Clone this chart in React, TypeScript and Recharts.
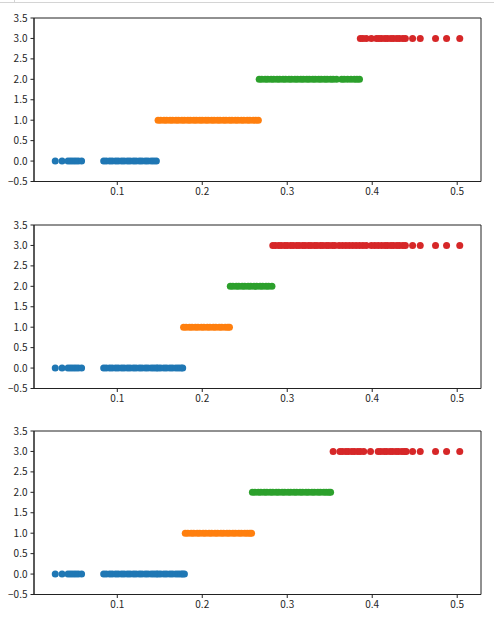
import React from "react";
import {
  ScatterChart,
  Scatter,
  XAxis,
  YAxis,
  ReferenceArea,
} from "recharts";

// ---- data ----
const xTicks = [0.1, 0.2, 0.3, 0.4, 0.5];
const yTicks = [-0.5, 0, 0.5, 1, 1.5, 2, 2.5, 3, 3.5];
const xDomain = [0.002, 0.528];
const yDomain = [-0.5, 3.5];
const colors = ["#1f77b4", "#ff7f0e", "#2ca02c", "#d62728"];

// panel 1
const blue1 = [0.027, 0.035, 0.042, 0.045, 0.048, 0.051, 0.054, 0.058, 0.084, 0.087, 0.091, 0.094, 0.098, 0.101, 0.105, 0.108, 0.112, 0.115, 0.119, 0.122, 0.126, 0.129, 0.133, 0.136, 0.14, 0.143, 0.146];
const orange1 = [0.148, 0.151, 0.155, 0.158, 0.162, 0.165, 0.169, 0.172, 0.176, 0.179, 0.183, 0.186, 0.19, 0.193, 0.197, 0.2, 0.204, 0.207, 0.211, 0.214, 0.218, 0.221, 0.225, 0.228, 0.232, 0.235, 0.239, 0.242, 0.246, 0.249, 0.253, 0.256, 0.26, 0.263, 0.266];
const green1 = [0.267, 0.27, 0.274, 0.277, 0.281, 0.284, 0.288, 0.291, 0.295, 0.298, 0.302, 0.305, 0.309, 0.312, 0.316, 0.319, 0.323, 0.326, 0.33, 0.333, 0.337, 0.34, 0.344, 0.347, 0.351, 0.354, 0.358, 0.364, 0.367, 0.371, 0.375, 0.379, 0.382, 0.385];
const red1 = [0.386, 0.389, 0.393, 0.399, 0.405, 0.408, 0.411, 0.415, 0.418, 0.422, 0.425, 0.429, 0.432, 0.436, 0.439, 0.4475, 0.4565, 0.4745, 0.4875, 0.503];

// panel 2
const blue2 = [0.027, 0.035, 0.042, 0.045, 0.048, 0.051, 0.054, 0.058, 0.084, 0.087, 0.091, 0.094, 0.098, 0.101, 0.105, 0.108, 0.112, 0.115, 0.119, 0.122, 0.126, 0.129, 0.133, 0.136, 0.14, 0.143, 0.146, 0.148, 0.151, 0.155, 0.158, 0.162, 0.165, 0.169, 0.172, 0.175, 0.177];
const orange2 = [0.178, 0.181, 0.185, 0.188, 0.192, 0.195, 0.199, 0.202, 0.206, 0.209, 0.213, 0.216, 0.22, 0.223, 0.227, 0.23, 0.232];
const green2 = [0.233, 0.236, 0.24, 0.243, 0.247, 0.25, 0.254, 0.257, 0.261, 0.264, 0.268, 0.271, 0.275, 0.278, 0.282];
const red2 = [0.283, 0.286, 0.29, 0.293, 0.297, 0.3, 0.304, 0.307, 0.311, 0.314, 0.318, 0.321, 0.325, 0.328, 0.332, 0.335, 0.339, 0.342, 0.346, 0.349, 0.353, 0.356, 0.361, 0.365, 0.369, 0.373, 0.377, 0.381, 0.385, 0.389, 0.393, 0.399, 0.403, 0.407, 0.411, 0.415, 0.418, 0.422, 0.425, 0.429, 0.432, 0.436, 0.439, 0.4475, 0.4565, 0.4745, 0.4875, 0.503];

// panel 3
const blue3 = [0.027, 0.035, 0.042, 0.045, 0.048, 0.051, 0.054, 0.058, 0.084, 0.087, 0.091, 0.094, 0.098, 0.101, 0.105, 0.108, 0.112, 0.115, 0.119, 0.122, 0.126, 0.129, 0.133, 0.136, 0.14, 0.143, 0.146, 0.148, 0.151, 0.155, 0.158, 0.162, 0.165, 0.169, 0.172, 0.175, 0.177, 0.179];
const orange3 = [0.18, 0.183, 0.187, 0.19, 0.194, 0.197, 0.201, 0.204, 0.208, 0.211, 0.215, 0.218, 0.222, 0.225, 0.229, 0.232, 0.236, 0.239, 0.243, 0.246, 0.25, 0.253, 0.256, 0.258];
const green3 = [0.259, 0.262, 0.266, 0.269, 0.273, 0.276, 0.28, 0.283, 0.287, 0.29, 0.294, 0.297, 0.301, 0.304, 0.308, 0.311, 0.315, 0.318, 0.322, 0.325, 0.329, 0.332, 0.336, 0.339, 0.343, 0.346, 0.349, 0.351];
const red3 = [0.354, 0.362, 0.365, 0.369, 0.372, 0.376, 0.379, 0.383, 0.386, 0.39, 0.398, 0.407, 0.41, 0.414, 0.417, 0.421, 0.424, 0.428, 0.431, 0.435, 0.438, 0.44, 0.4475, 0.4565, 0.4745, 0.4875, 0.503];

const panels = [
  { top: 18, clusters: [blue1, orange1, green1, red1] },
  { top: 225, clusters: [blue2, orange2, green2, red2] },
  { top: 431, clusters: [blue3, orange3, green3, red3] },
];

const PLOT_H = 163.5;
const PAD_TOP = 10;
const XAXIS_H = 24;
const FONT = "'Noto Sans CJK SC', 'DejaVu Sans', sans-serif";
const tickStyle = { fontSize: 10, fill: "#262626", fontFamily: FONT };

const fmt = (v: number) => (v < 0 ? "\u2212" + Math.abs(v).toFixed(1) : v.toFixed(1));

const Dot = (props: any) => {
  const { cx, cy, fill } = props;
  if (cx == null || cy == null) return null;
  return <circle cx={cx} cy={cy} r={3.5} fill={fill} />;
};

function Panel({ top, clusters }: { top: number; clusters: number[][] }) {
  const height = PAD_TOP + PLOT_H + XAXIS_H;
  return (
    <div style={{ position: "absolute", left: 0, top: top - PAD_TOP }}>
      <ScatterChart
        width={494}
        height={height}
        margin={{ top: PAD_TOP, right: 13, bottom: 0, left: 0 }}
      >
        <XAxis
          type="number"
          dataKey="x"
          domain={xDomain}
          ticks={xTicks}
          tickFormatter={fmt}
          allowDataOverflow
          height={XAXIS_H}
          tickSize={3.5}
          tickMargin={3}
          tick={tickStyle}
          axisLine={{ stroke: "#222", strokeWidth: 1 }}
          tickLine={{ stroke: "#222" }}
        />
        <YAxis
          type="number"
          dataKey="y"
          domain={yDomain}
          ticks={yTicks}
          tickFormatter={fmt}
          allowDataOverflow
          width={34}
          tickSize={3.5}
          tickMargin={3}
          tick={tickStyle}
          interval={0}
          axisLine={{ stroke: "#222", strokeWidth: 1 }}
          tickLine={{ stroke: "#222" }}
        />
        <ReferenceArea
          x1={xDomain[0]}
          x2={xDomain[1]}
          y1={yDomain[0]}
          y2={yDomain[1]}
          fill="none"
          fillOpacity={0}
          stroke="#222"
          strokeWidth={1}
        />
        {clusters.map((xs, i) => (
          <Scatter
            key={i}
            data={xs.map((x) => ({ x, y: i }))}
            fill={colors[i]}
            shape={<Dot />}
            isAnimationActive={false}
          />
        ))}
      </ScatterChart>
    </div>
  );
}

export default function App() {
  return (
    <div
      style={{
        position: "absolute",
        left: 0,
        top: 0,
        width: 494,
        height: 619,
        background: "#fff",
        overflow: "hidden",
      }}
    >
      <div
        style={{
          position: "absolute",
          left: 0,
          top: 2,
          width: 494,
          height: 1,
          background: "#d4d4d4",
        }}
      />
      <div
        style={{
          position: "absolute",
          left: 14,
          top: 0,
          width: 1,
          height: 2,
          background: "#d4d4d4",
        }}
      />
      {panels.map((p, i) => (
        <Panel key={i} top={p.top} clusters={p.clusters} />
      ))}
    </div>
  );
}
